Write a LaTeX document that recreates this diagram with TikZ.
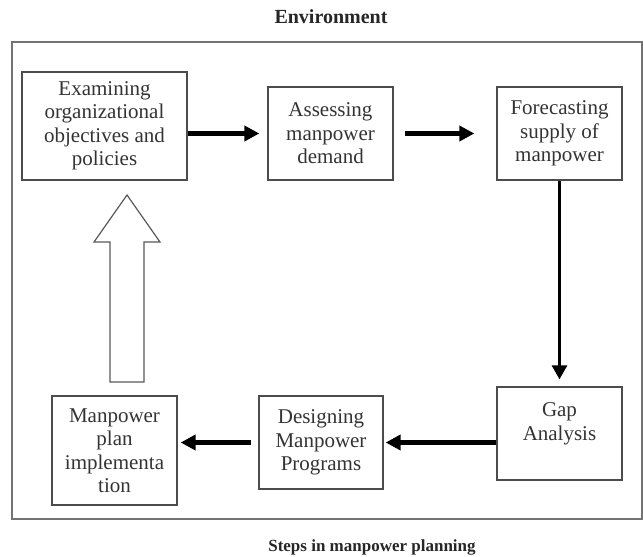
\documentclass[tikz,border=0pt]{standalone}
\usepackage{fontspec}
\setmainfont{Liberation Serif}
\usepackage{tikz}
\usetikzlibrary{positioning,calc,arrows.meta}
\tikzset{>={Triangle[length=15pt,width=15pt]}}
\tikzset{stepbox/.style={draw=black!70,line width=1.3pt,text=black!80,align=center,
  inner sep=0pt,font=\fontsize{21}{23.5}\selectfont}}
\tikzset{flow/.style={->,line width=5pt,black}}
\newcommand*{\hd}[1]{\textbf{#1}}

\begin{document}
\begin{tikzpicture}[x=1pt,y=-1pt]
\useasboundingbox (0,0) rectangle (643,557);
\node[font=\fontsize{20}{22}\selectfont,text=black!85] (env) at (331,17) {\hd{Environment}};
\draw[black!55,line width=2pt] (12,42) rectangle (642,519);
\node[stepbox,minimum width=165,minimum height=108] (exam) at (104.5,126)
  {Examining\\organizational\\objectives and\\policies};
\node[stepbox,minimum width=125,minimum height=93] (assess) at (330.5,133.5)
  {Assessing\\manpower\\demand};
\node[stepbox,minimum width=125,minimum height=93] (forecast) at (559.5,133.5)
  {Forecasting\\supply of\\manpower};
\node[stepbox,minimum width=125,minimum height=93] (gap) at (559.5,433.5)
  {Gap\\Analysis\\\mbox{}};
\node[stepbox,minimum width=124,minimum height=93] (design) at (321,442.5)
  {Designing\\Manpower\\Programs};
\node[stepbox,minimum width=125,minimum height=109] (impl) at (114.5,450.5)
  {Manpower\\plan\\implementa\\tion};
\draw[flow,shorten >=8pt] (exam.east |- assess.west) -- (assess.west);
\draw[flow,shorten <=11pt,shorten >=22pt] (assess.east) -- (forecast.west);
\draw[->,line width=3pt,>={Triangle[length=14pt,width=15pt]},shorten >=7pt]
  (forecast.south) -- (gap.north);
\draw[flow,shorten >=2pt] (gap.west |- design.east) -- (design.east);
\draw[flow,shorten <=7pt,shorten >=3pt] (design.west) -- (impl.east |- design.west);
% hollow feedback arrow
\coordinate (up0) at (127,382);
\coordinate (up1) at (127,195);
\draw[black!65,line width=1.2pt,fill=white] ($(up0)+(-17,0)$) -- ($(up0)+(17,0)$)
  -- ($(up1)+(17,47)$) -- ($(up1)+(33,47)$) -- (up1) -- ($(up1)+(-33,47)$)
  -- ($(up1)+(-17,47)$) -- cycle;
\node[font=\fontsize{17}{20}\selectfont,text=black!85] (cap) at (372,547)
  {\hd{Steps in manpower planning}};
\end{tikzpicture}
\end{document}
